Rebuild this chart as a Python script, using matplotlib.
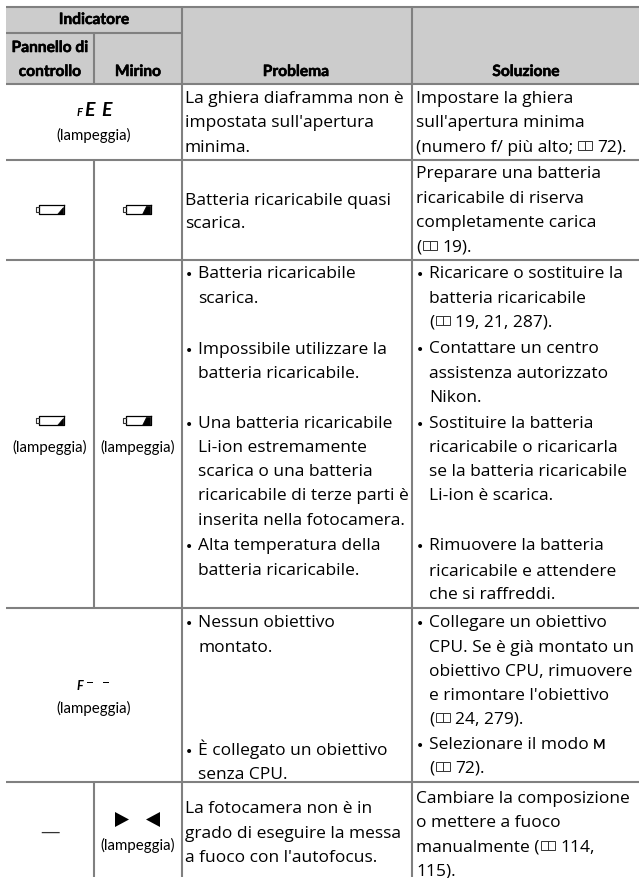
import matplotlib
matplotlib.use("Agg")
import matplotlib.pyplot as plt
import matplotlib.patheffects as pe
from matplotlib.patches import Rectangle, Polygon

W, H = 639, 879
GRID = "#808080"
HEAD = "#cccccc"
BODY = ["Open Sans", "DejaVu Sans"]
NARROW = ["Lato", "Open Sans", "DejaVu Sans"]
BODY_PT = 12.5
NARROW_PT = 10.8
HEAD_PT = 11.2

# griglia della tabella (pixel)
col_x = [6, 94, 182, 412, 639]
row_y = [8, 34, 85, 161, 261, 609, 783, 878]

header_top = "Indicatore"
header_sub = ["Pannello di", "controllo", "Mirino"]
header_main = ["Problema", "Soluzione"]
blink = "(lampeggia)"

# "@" = icona del libretto, "#" = M in grassetto
problem_lines = [
    "La ghiera diaframma non è", "impostata sull'apertura", "minima.",
    "Batteria ricaricabile quasi", "scarica.",
    "• Batteria ricaricabile", "  scarica.",
    "• Impossibile utilizzare la", "  batteria ricaricabile.",
    "• Una batteria ricaricabile", "  Li-ion estremamente", "  scarica o una batteria",
    "  ricaricabile di terze parti è", "  inserita nella fotocamera.",
    "• Alta temperatura della", "  batteria ricaricabile.",
    "• Nessun obiettivo", "  montato.",
    "• È collegato un obiettivo", "  senza CPU.",
    "La fotocamera non è in", "grado di eseguire la messa", "a fuoco con l'autofocus.",
]
problem_base = [103, 127, 152, 205, 228, 278, 303, 354, 378, 428, 452, 476, 500, 525,
                550, 575, 627, 652, 755, 779, 813, 838, 862]

solution_lines = [
    "Impostare la ghiera", "sull'apertura minima", "(numero f/ più alto;@72).",
    "Preparare una batteria", "ricaricabile di riserva", "completamente carica", "(@19).",
    "• Ricaricare o sostituire la", "  batteria ricaricabile", "  (@19, 21, 287).",
    "• Contattare un centro", "  assistenza autorizzato", "  Nikon.",
    "• Sostituire la batteria", "  ricaricabile o ricaricarla", "  se la batteria ricaricabile", "  Li-ion è scarica.",
    "• Rimuovere la batteria", "  ricaricabile e attendere", "  che si raffreddi.",
    "• Collegare un obiettivo", "  CPU. Se è già montato un", "  obiettivo CPU, rimuovere", "  e rimontare l'obiettivo", "  (@24, 279).",
    "• Selezionare il modo #", "  (@72).",
    "Cambiare la composizione", "o mettere a fuoco", "manualmente (@114,", "115).",
]
solution_base = [103, 127, 152, 178, 203, 227, 252, 278, 303, 327, 353, 378, 402,
                 428, 452, 476, 500, 550, 576, 599, 627, 652, 676, 700, 724, 749, 773,
                 803, 827, 852, 876]

fig = plt.figure(figsize=(W / 100, H / 100), dpi=100)
ax = fig.add_axes([0, 0, 1, 1])
ax.set_xlim(0, W)
ax.set_ylim(H, 0)
ax.axis("off")
renderer = fig.canvas.get_renderer()


def rule(x0, y0, x1, y1):
    ax.plot([x0, x1], [y0, y1], color=GRID, lw=1.5, solid_capstyle="butt")


def book(x, base):
    # icona del libretto, larga circa 14 px
    y0, y1 = base - 10, base - 1
    ax.add_patch(Rectangle((x, y0), 7, y1 - y0, fc="none", ec="#333333", lw=0.7))
    ax.add_patch(Rectangle((x + 7, y0), 7, y1 - y0, fc="none", ec="#333333", lw=0.7))
    return x + 14


def piece(x, base, s, **kw):
    t = ax.text(x, base, s, family=BODY, size=BODY_PT, va="baseline", ha="left", color="black", **kw)
    return t.get_window_extent(renderer).x1 + 0.8


def draw_line(x, base, line):
    if line.startswith("• "):
        ax.text(x, base + 1, "•", family=["DejaVu Sans"], size=10, va="baseline", color="black")
        line = line[2:]
        x += 13
    elif line.startswith("  "):
        line = line[2:]
        x += 13
    if "#" in line:
        x = piece(x, base, line[:-1].rstrip())
        ax.text(x + 3, base, "M", family=NARROW, size=9.5, weight="bold", va="baseline", color="black")
        return
    parts = line.split("@")
    for i, p in enumerate(parts):
        if i > 0:
            gap = 1 if parts[i - 1].endswith("(") else 4
            x = book(x + gap, base) + 5
        if p:
            x = piece(x, base, p)


def center(x, base, s, size=NARROW_PT, weight="normal"):
    t = ax.text(x, base, s, family=NARROW, size=size, weight=weight, ha="center", va="baseline", color="black")
    if weight == "bold":
        # intestazioni più scure, come nell'originale
        t.set_path_effects([pe.withStroke(linewidth=0.4, foreground="black")])


def battery(x, top, fill):
    # x = bordo sinistro del corpo della batteria
    y0, y1 = top, top + 9
    ax.plot([x + 25, x, x, x + 25, x + 25], [y0, y0, y1, y1, y0], color="black", lw=0.9)
    ax.plot([x, x - 3, x - 3, x], [y0 + 2, y0 + 2, y1 - 2, y1 - 2], color="#333333", lw=0.8)
    if fill == "low":
        ax.add_patch(Polygon([(x + 18, y1), (x + 24, y1), (x + 24, y0 + 2)], fc="black", ec="black", lw=0.5))
    else:
        ax.add_patch(Polygon([(x + 16, y1), (x + 24, y1), (x + 24, y0 + 1), (x + 20, y0 + 1)], fc="black", ec="black", lw=0.5))


# intestazione
ax.add_patch(Rectangle((col_x[0], row_y[0]), W - col_x[0], row_y[2] - row_y[0], fc=HEAD, ec="none"))

# griglia
for y in [row_y[0], row_y[2], row_y[3], row_y[4], row_y[5], row_y[6]]:
    rule(col_x[0], y, W, y)
rule(col_x[0], row_y[1], col_x[2], row_y[1])
for x in [col_x[2], col_x[3]]:
    rule(x, row_y[0], x, row_y[7])
rule(col_x[1], row_y[1], col_x[1], row_y[2])
rule(col_x[1], row_y[3], col_x[1], row_y[5])
rule(col_x[1], row_y[6], col_x[1], row_y[7])

center(94, 25, header_top, HEAD_PT, "bold")
center(50, 53, header_sub[0], HEAD_PT, "bold")
center(50, 77, header_sub[1], HEAD_PT, "bold")
center(138, 77, header_sub[2], HEAD_PT, "bold")
center(296, 77, header_main[0], HEAD_PT, "bold")
center(526, 77, header_main[1], HEAD_PT, "bold")

# testi delle colonne
for line, base in zip(problem_lines, problem_base):
    draw_line(185, base, line)
for line, base in zip(solution_lines, solution_base):
    draw_line(416, base, line)

# prima riga: FE E
ax.text(77, 116, "F", family=NARROW, size=8, weight="bold", style="italic", va="baseline", color="black")
ax.text(84, 116, "E", family=NARROW, size=14, weight="bold", style="italic", va="baseline", color="black")
ax.text(101, 116, "E", family=NARROW, size=14, weight="bold", style="italic", va="baseline", color="black")
center(94, 140, blink)

# batterie
battery(39, 206, "low")
battery(126, 206, "half")
battery(39, 417, "low")
battery(126, 417, "half")
center(50, 452, blink)
center(138, 452, blink)

# F - -
ax.text(77, 690, "F", family=NARROW, size=9, weight="bold", style="italic", va="baseline", color="black")
ax.add_patch(Rectangle((87, 682.5), 6, 1.8, fc="black", ec="none"))
ax.add_patch(Rectangle((103, 682.5), 6, 1.8, fc="black", ec="none"))
center(94, 713, blink)

# ultima riga
ax.text(50, 838, "—", family=BODY, size=14, ha="center", va="baseline", color="#333333")
ax.add_patch(Polygon([(115, 813), (129, 820.5), (115, 828)], fc="black", ec="none"))
ax.add_patch(Polygon([(160, 813), (146, 820.5), (160, 828)], fc="black", ec="none"))
center(138, 850, blink)

fig.savefig("out.png", dpi=100)
